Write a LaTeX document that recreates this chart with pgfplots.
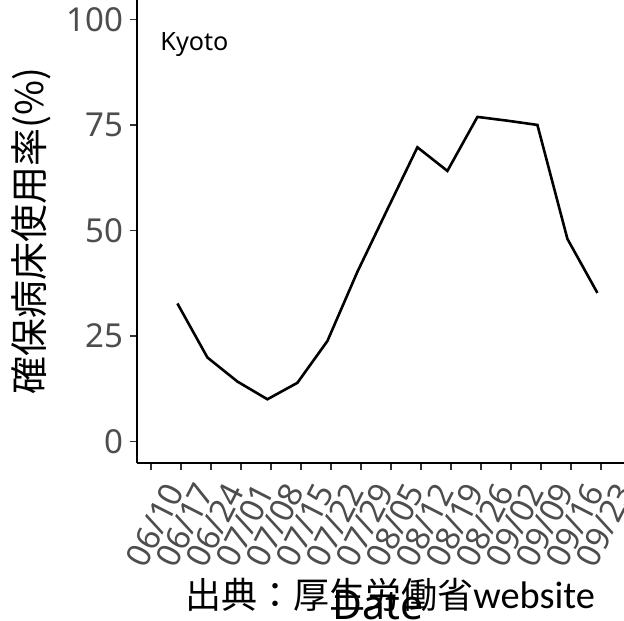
\documentclass[border=0pt]{standalone}
\usepackage{pgfplots}
\pgfplotsset{compat=1.18}
\usepackage{fontspec}
\setmainfont{Noto Sans CJK JP}
\newfontfamily\latin{Noto Sans}
\newfontfamily\carlito{Carlito}
\definecolor{ticktext}{HTML}{4D4D4D}
\definecolor{tickline}{HTML}{333333}

\begin{document}
\begin{tikzpicture}
	% crop of the original figure (1px = 0.5pt)
	\clip (-68.5pt,-78.5pt) rectangle (243.5pt,231.5pt);
	\begin{axis}[
		scale only axis,
		at={(0,0)}, anchor=south west,
		width=243.5pt, height=231.5pt,
		xmin=-0.467, xmax=15.767,
		ymin=-5.1, ymax=104.6,
		axis x line=bottom, axis y line=left,
		axis line style={-, black, line width=0.9pt},
		tick align=outside,
		major tick length=3.5pt,
		tick style={tickline, line width=0.9pt},
		/pgf/number format/assume math mode=true,
		xtick={0,...,15},
		xticklabels={06/10,06/17,06/24,07/01,07/08,07/15,07/22,07/29,
			08/05,08/12,08/19,08/26,09/02,09/09,09/16,09/23},
		ytick={0,25,50,75,100},
		tick label style={font=\latin\fontsize{16.5}{16.5}\selectfont, text=ticktext},
		xticklabel style={rotate=63, anchor=north east, inner sep=1pt,
			yshift=-7pt, xshift=-0.5pt},
		yticklabel style={inner sep=3pt},
		xlabel={Date},
		xlabel style={at={(axis description cs:0.495,-0.337)}, anchor=base,
			font=\latin\fontsize{20.5}{20.5}\selectfont},
		ylabel={確保病床使用率(\%)},
		ylabel style={at={(axis description cs:-0.2166,0.5)}, anchor=center,
			font=\fontsize{19}{19}\selectfont},
		clip=false,
	]
	\addplot [black, line width=1.3pt] coordinates {
		(0.88,32.7) (1.88,19.9) (2.88,14.2) (3.88,10.0) (4.88,13.9)
		(5.88,23.8) (6.88,40.2) (7.88,55.0) (8.88,69.7) (9.88,64.1)
		(10.88,76.9) (11.88,76.0) (12.88,75.0) (13.88,48.0) (14.88,35.2)
	};
	\node [anchor=base west, inner sep=0pt, font=\latin\fontsize{12.6}{12.6}\selectfont]
		at (axis cs:0.3,92.6) {Kyoto};
	\end{axis}
	\node [anchor=base west, inner sep=0pt, font=\fontsize{18}{18}\selectfont]
		at (24pt,-72.5pt) {出典：厚生労働省{\carlito\fontsize{19.2}{19.2}\selectfont website}};
\end{tikzpicture}
\end{document}
